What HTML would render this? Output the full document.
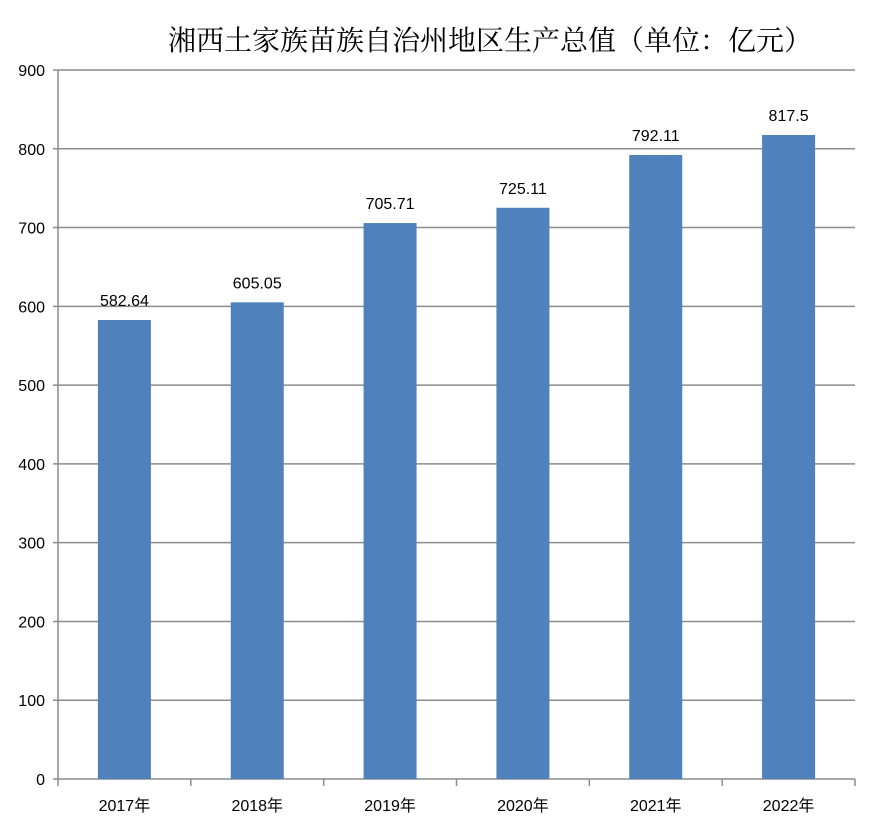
<!DOCTYPE html>
<html><head><meta charset="utf-8"><style>
body{margin:0;background:#fff;}
svg{display:block;font-family:"Liberation Sans","Noto Sans CJK SC",sans-serif;}
</style></head><body>
<svg id="chart" width="877" height="832">
<text x="490" y="50" text-anchor="middle" font-size="28" fill="#000" font-family="'Noto Serif CJK SC','Noto Sans CJK SC',serif">湘西土家族苗族自治州地区生产总值（单位：亿元）</text>
<g id="grid"></g>
<g id="yaxis"></g>
<g id="xaxis"></g>
<g id="bars"></g>
</svg>
<script>
const categories=["2017年","2018年","2019年","2020年","2021年","2022年"];
const values=[582.64,605.05,705.71,725.11,792.11,817.5];
const valueLabels=["582.64","605.05","705.71","725.11","792.11","817.5"];
const yTicks=[0,100,200,300,400,500,600,700,800,900];
const NS="http://www.w3.org/2000/svg";
const X0=58,X1=855,Y0=779,Y1=70,YMAX=900;
const y=v=>Y0-(v/YMAX)*(Y0-Y1);
const bw=(X1-X0)/categories.length;
const xc=i=>X0+bw*(i+0.5);
function mk(tag,attrs,parent){const e=document.createElementNS(NS,tag);for(const k in attrs)e.setAttribute(k,attrs[k]);parent.appendChild(e);return e;}
const grid=document.getElementById('grid'),ya=document.getElementById('yaxis'),xa=document.getElementById('xaxis'),bars=document.getElementById('bars');
yTicks.forEach(t=>{
  const l=mk('line',{x1:X0-5,x2:X1,y1:y(t),y2:y(t),stroke:'#8c8c8c','stroke-width':1.5},grid);
  
  
  const tx=mk('text',{x:45,y:y(t)+6,'text-anchor':'end','font-size':16,fill:'#000'},ya);
  tx.textContent=t;
  
  
});
const ax=mk('line',{x1:X0,x2:X0,y1:Y1,y2:Y0,stroke:'#8c8c8c','stroke-width':1.5},ya);


for(let i=0;i<=categories.length;i++){
  const t=mk('line',{x1:X0+bw*i,x2:X0+bw*i,y1:Y0,y2:Y0+7,stroke:'#8c8c8c','stroke-width':1.5},xa);
  
  
}
categories.forEach((c,i)=>{
  const t=mk('text',{x:xc(i),y:811,'text-anchor':'middle','font-size':16,fill:'#000'},xa);
  t.textContent=c;
  
  
  const w=53;
  const r=mk('rect',{x:xc(i)-w/2,y:y(values[i]),width:w,height:Y0-y(values[i]),fill:'#4f81bd'},bars);
  
  
  const lb=mk('text',{x:xc(i),y:y(values[i])-14,'text-anchor':'middle','font-size':16,fill:'#000'},bars);
  lb.textContent=valueLabels[i];
  
  
});
</script>
</body></html>
